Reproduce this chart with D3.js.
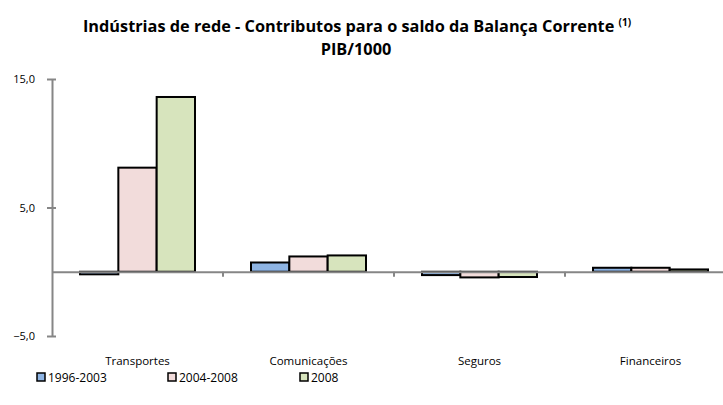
<!DOCTYPE html>
<html>
<head>
<meta charset="utf-8">
<script src="https://cdn.jsdelivr.net/npm/d3@7"></script>
<style>
  body { margin: 0; background: #fff; }
  svg { display: block; font-family: "Open Sans", sans-serif; }
</style>
</head>
<body>
<script>
// data
var categories = ["Transportes", "Comunicações", "Seguros", "Financeiros"];
var seriesNames = ["1996-2003", "2004-2008", "2008"];
var v1996_2003 = [-0.2, 0.72, -0.26, 0.31];
var v2004_2008 = [8.1, 1.19, -0.44, 0.31];
var v2008 = [13.6, 1.27, -0.41, 0.18];
var yTicks = [-5, 5, 15];
var colors = ["#8EB4E3", "#F2DCDB", "#D7E4BD"];

var seriesValues = [v1996_2003, v2004_2008, v2008];
var data = [];
categories.forEach(function (c, i) {
    seriesNames.forEach(function (s, j) {
        data.push({cat: c, series: s, value: seriesValues[j][i]});
    });
});

var width = 723, height = 405;
var svg = d3.select("body").append("svg")
    .attr("width", width)
    .attr("height", height);

var yScale = d3.scaleLinear()
    .domain([-5, 15])
    .range([336, 79]);

var xScale = d3.scaleBand()
    .domain(categories)
    .range([52, 736]);

var inner = d3.scaleBand()
    .domain(seriesNames)
    .range([28, xScale.bandwidth() - 28]);

// title
var title = svg.append("text")
    .attr("x", 357)
    .attr("y", 32)
    .attr("text-anchor", "middle")
    .style("font-weight", "bold")
    .style("font-size", "16.3px");
title.append("tspan").text("Indústrias de rede - Contributos para o saldo da Balança Corrente ");
title.append("tspan").attr("dy", -6).style("font-size", "10px").text("(1)");
svg.append("text")
    .attr("x", 356)
    .attr("y", 55)
    .attr("text-anchor", "middle")
    .style("font-weight", "bold")
    .style("font-size", "16.3px")
    .text("PIB/1000");

// y axis
var yAxis = d3.axisLeft(yScale)
    .tickValues(yTicks)
    .tickSizeInner(5)
    .tickSizeOuter(0)
    .tickPadding(12)
    .tickFormat(function (d) { return d3.format(".1f")(d).replace(".", ","); });

var yg = svg.append("g")
    .attr("transform", "translate(52,0)")
    .call(yAxis);
yg.select(".domain").attr("stroke", "#868686").attr("stroke-width", 2);
yg.selectAll(".tick line").attr("x1", -5).attr("x2", 4).attr("stroke", "#868686").attr("stroke-width", 2);
yg.selectAll(".tick text").style("font-size", "11px").style("font-family", "Open Sans").attr("fill", "#000");

// bars
svg.append("g").selectAll("rect")
    .data(data)
    .enter().append("rect")
    .attr("x", function (d) { return xScale(d.cat) + inner(d.series); })
    .attr("width", inner.bandwidth())
    .attr("y", function (d) { return yScale(Math.max(0, d.value)); })
    .attr("height", function (d) { return Math.abs(yScale(d.value) - yScale(0)); })
    .attr("fill", function (d) { return colors[seriesNames.indexOf(d.series)]; })
    .attr("stroke", "#000")
    .attr("stroke-width", 2);

// x axis along zero
var xAxis = d3.axisBottom(xScale)
    .tickSizeOuter(0)
    .tickSizeInner(0)
    .tickFormat("");
var xg = svg.append("g")
    .attr("transform", "translate(0," + yScale(0) + ")")
    .call(xAxis);
xg.select(".domain").attr("stroke", "#868686").attr("stroke-width", 2);
xg.selectAll(".tick").remove();

// category separators
svg.append("g").selectAll("line")
    .data(categories.slice(1))
    .enter().append("line")
    .attr("x1", function (d) { return xScale(d); })
    .attr("x2", function (d) { return xScale(d); })
    .attr("y1", yScale(0))
    .attr("y2", yScale(0) + 5)
    .attr("stroke", "#868686")
    .attr("stroke-width", 2);

// category labels
svg.append("g").selectAll("text")
    .data(categories)
    .enter().append("text")
    .attr("x", function (d) { return xScale(d) + xScale.bandwidth() / 2; })
    .attr("y", 365)
    .attr("text-anchor", "middle")
    .style("font-size", "11.5px")
    .text(function (d) { return d; });

// legend
var legendX = [37, 168, 300];
var lg = svg.append("g").selectAll("g")
    .data(seriesNames)
    .enter().append("g")
    .attr("transform", function (d, i) { return "translate(" + legendX[i] + ",373)"; });
lg.append("rect")
    .attr("width", 8)
    .attr("height", 8)
    .attr("fill", function (d, i) { return colors[i]; })
    .attr("stroke", "#000")
    .attr("stroke-width", 1.5);
lg.append("text")
    .attr("x", 11)
    .attr("y", 9)
    .style("font-size", "12px")
    .text(function (d) { return d; });
</script>
</body>
</html>
